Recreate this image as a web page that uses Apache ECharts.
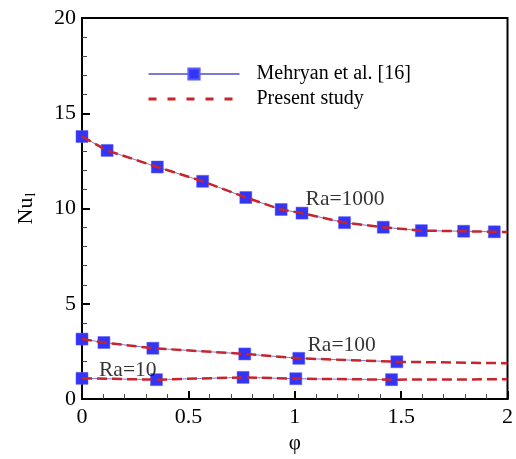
<!DOCTYPE html>
<html>
<head>
<meta charset="utf-8">
<script src="https://cdn.jsdelivr.net/npm/echarts@6/dist/echarts.min.js"></script>
<style>
  html, body { margin: 0; padding: 0; background: #fff; }
  #chart { width: 516px; height: 459px; }
</style>
</head>
<body>
<div id="chart"></div>
<script>
// Nusselt number vs. phi for three Rayleigh numbers
const seriesNames = ['Mehryan et al. [16]', 'Present study'];

// Mehryan et al. [16] reference points
const ref1000X = [0, 0.118, 0.354, 0.567, 0.770, 0.936, 1.034, 1.234, 1.416, 1.595, 1.794, 1.938];
const ref1000Y = [13.78, 13.05, 12.18, 11.43, 10.58, 9.95, 9.76, 9.26, 9.02, 8.84, 8.81, 8.78];
const ref100X = [0, 0.103, 0.333, 0.765, 1.019, 1.48];
const ref100Y = [3.15, 2.97, 2.67, 2.37, 2.14, 1.96];
const ref10X = [0, 0.35, 0.757, 1.005, 1.455];
const ref10Y = [1.09, 1.02, 1.14, 1.07, 1.02];

// Present study curves
const cur1000X = [0, 0.118, 0.354, 0.567, 0.770, 0.936, 1.034, 1.234, 1.416, 1.595, 1.794, 1.938, 2];
const cur1000Y = [13.78, 13.05, 12.18, 11.43, 10.58, 9.95, 9.76, 9.26, 9.02, 8.84, 8.81, 8.78, 8.77];
const cur100X = [0, 0.103, 0.333, 0.765, 1.019, 1.48, 2];
const cur100Y = [3.15, 2.97, 2.67, 2.37, 2.14, 1.96, 1.88];
const cur10X = [0, 0.35, 0.757, 1.005, 1.455, 2];
const cur10Y = [1.09, 1.02, 1.14, 1.07, 1.02, 1.04];

// Curve annotations (anchored at the left edge of each text)
const annoText = ['Ra=1000', 'Ra=100', 'Ra=10'];
const annoX = [1.051, 1.06, 0.08];
const annoY = [10.46, 2.81, 1.53];

const xTicks = ['0', '0.5', '1', '1.5', '2'];
const yTicks = ['0', '5', '10', '15', '20'];

const zip = (xs, ys) => xs.map((x, i) => [x, ys[i]]);
const FONT = '"Liberation Serif", "Times New Roman", serif';
const MARK = '#3434f4';
const THIN = '#7a7ad2';
const RED = '#c8242c';
const INK = '#000';

function refSeries(xs, ys) {
  return {
    name: seriesNames[0], type: 'line', data: zip(xs, ys), z: 3,
    symbol: 'rect', symbolSize: 12,
    itemStyle: { color: MARK, borderColor: '#5a5aff', borderWidth: 0.5 },
    lineStyle: { color: THIN, width: 1 }, animation: false
  };
}
function curSeries(xs, ys) {
  return {
    name: seriesNames[1], type: 'line', data: zip(xs, ys), z: 4,
    symbol: 'none', showSymbol: false,
    itemStyle: { color: RED },
    lineStyle: { color: RED, width: 2.5, type: [10, 5] }, animation: false
  };
}

const chart = echarts.init(document.getElementById('chart'));
chart.setOption({
  backgroundColor: '#fff',
  animation: false,
  grid: { left: 82, right: 6, top: 18, bottom: 49, show: true, borderColor: '#000', borderWidth: 2, backgroundColor: 'transparent' },
  legend: {
    data: [
      { name: seriesNames[0] },
      { name: seriesNames[1], itemStyle: { opacity: 0 },
        lineStyle: { color: RED, width: 3, type: [8, 11] } }
    ],
    orient: 'vertical', left: 142, top: 59,
    itemWidth: 91, itemHeight: 14, itemGap: 5,
    textStyle: { fontFamily: FONT, fontSize: 20, color: INK, lineHeight: 20, padding: [0, 0, 0, 12] }
  },
  xAxis: {
    type: 'value', min: 0, max: 2, interval: 0.5,
    name: 'φ', nameLocation: 'middle', nameGap: 31,
    nameTextStyle: { fontFamily: FONT, fontSize: 21, color: INK },
    axisLine: { lineStyle: { color: '#000', width: 2 } },
    axisTick: { inside: true, length: 8, lineStyle: { color: '#000', width: 2 } },
    minorTick: { show: true, splitNumber: 5, length: 5, lineStyle: { color: '#444', width: 1 } },
    splitLine: { show: false },
    axisLabel: { fontFamily: FONT, fontSize: 22, color: INK, margin: 7,
      formatter: v => xTicks[Math.round(v / 0.5)] }
  },
  yAxis: {
    type: 'value', min: 0, max: 20, interval: 5,
    name: '{a|Nu}{b|l}', nameLocation: 'middle', nameGap: 44, nameRotate: 90,
    nameTextStyle: { fontFamily: FONT, fontSize: 22, color: INK,
      rich: {
        a: { fontFamily: FONT, fontSize: 22, color: INK },
        b: { fontFamily: FONT, fontSize: 14, color: INK, padding: [10, 0, 0, 1] }
      } },
    axisLine: { lineStyle: { color: '#000', width: 2 } },
    axisTick: { inside: true, length: 8, lineStyle: { color: '#000', width: 2 } },
    minorTick: { show: true, splitNumber: 5, length: 5, lineStyle: { color: '#444', width: 1 } },
    splitLine: { show: false },
    axisLabel: { fontFamily: FONT, fontSize: 22, color: INK, margin: 6,
      formatter: v => yTicks[Math.round(v / 5)] }
  },
  series: [
    refSeries(ref1000X, ref1000Y),
    refSeries(ref100X, ref100Y),
    refSeries(ref10X, ref10Y),
    curSeries(cur1000X, cur1000Y),
    curSeries(cur100X, cur100Y),
    curSeries(cur10X, cur10Y),
    {
      name: 'annotations', type: 'scatter', symbolSize: 0, silent: true, z: 5,
      data: annoText.map((t, i) => [annoX[i], annoY[i], t]),
      label: { show: true, position: 'right', distance: 0, formatter: p => p.value[2],
        fontFamily: FONT, fontSize: 21.5, color: INK }
    }
  ]
});
</script>
</body>
</html>
